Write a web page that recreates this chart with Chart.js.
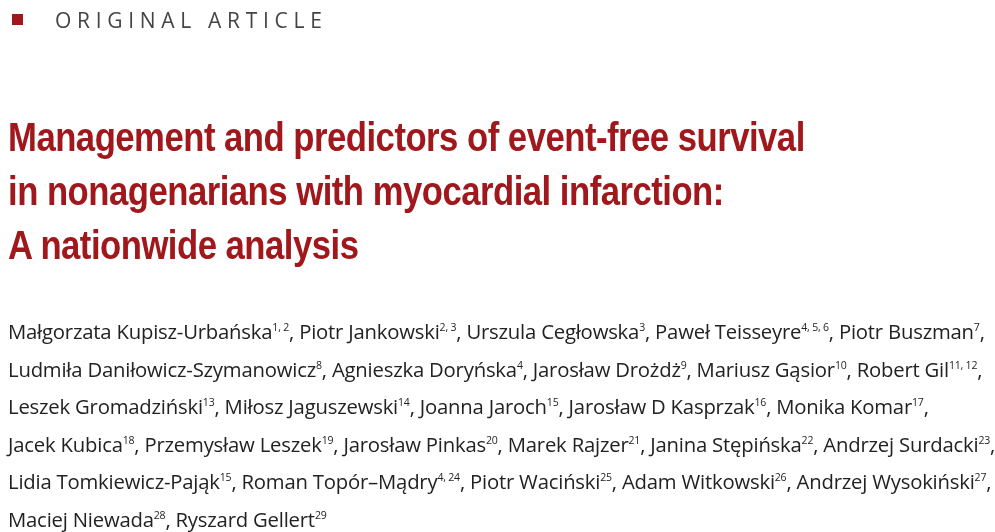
<!DOCTYPE html>
<html><head><meta charset="utf-8">
<script src="https://cdn.jsdelivr.net/npm/chart.js"></script>
<style>
body{margin:0;width:995px;height:532px;background:#fff;overflow:hidden;font-family:"Open Sans",sans-serif;position:relative}
#hdr{position:absolute;left:12px;top:6px;font-size:21px;letter-spacing:5.7px;color:#444;font-family:"Open Sans"}
#hdr span.sq{display:inline-block;width:11px;height:11px;background:#a0171c;margin-right:32px;vertical-align:3px}
#title{position:absolute;left:8px;top:110px;font-family:"Liberation Sans",sans-serif;font-weight:bold;font-size:41px;line-height:54px;color:#a0171c;letter-spacing:-0.6px;transform:scaleX(0.846);transform-origin:0 0;white-space:nowrap}
#auth{position:absolute;left:8px;top:313px;font-size:19.3px;line-height:37.5px;color:#222;letter-spacing:-0.2px;white-space:nowrap;transform:scaleX(1.053);transform-origin:0 0}
sup{font-size:10px;vertical-align:8px;line-height:0}
canvas{display:none}
</style></head><body>
<div id="hdr"><span class="sq"></span>ORIGINAL ARTICLE</div>
<div id="title">Management and predictors of event-free survival<br>in nonagenarians with myocardial infarction:<br>A nationwide analysis</div>
<div id="auth"></div>
<canvas id="c"></canvas>
<script>
const authors=[["Małgorzata Kupisz-Urbańska","1, 2"],["Piotr Jankowski","2, 3"],["Urszula Cegłowska","3"],["Paweł Teisseyre","4, 5, 6"],["Piotr Buszman","7"],
["Ludmiła Daniłowicz-Szymanowicz","8"],["Agnieszka Doryńska","4"],["Jarosław Drożdż","9"],["Mariusz Gąsior","10"],["Robert Gil","11, 12"],
["Leszek Gromadziński","13"],["Miłosz Jaguszewski","14"],["Joanna Jaroch","15"],["Jarosław D Kasprzak","16"],["Monika Komar","17"],
["Jacek Kubica","18"],["Przemysław Leszek","19"],["Jarosław Pinkas","20"],["Marek Rajzer","21"],["Janina Stępińska","22"],["Andrzej Surdacki","23"],
["Lidia Tomkiewicz-Pająk","15"],["Roman Topór–Mądry","4, 24"],["Piotr Waciński","25"],["Adam Witkowski","26"],["Andrzej Wysokiński","27"],
["Maciej Niewada","28"],["Ryszard Gellert","29"]];
const lineBreaks=[5,10,15,21,26];
let h="";
authors.forEach((a,i)=>{h+=a[0]+"<sup>"+a[1]+"</sup>";if(i<authors.length-1){h+=",";h+=lineBreaks.includes(i+1)?"<br>":" ";}});
document.getElementById("auth").innerHTML=h;
new Chart(document.getElementById("c"),{type:"bar",data:{labels:[],datasets:[]},options:{animation:false}});
</script>
</body></html>
